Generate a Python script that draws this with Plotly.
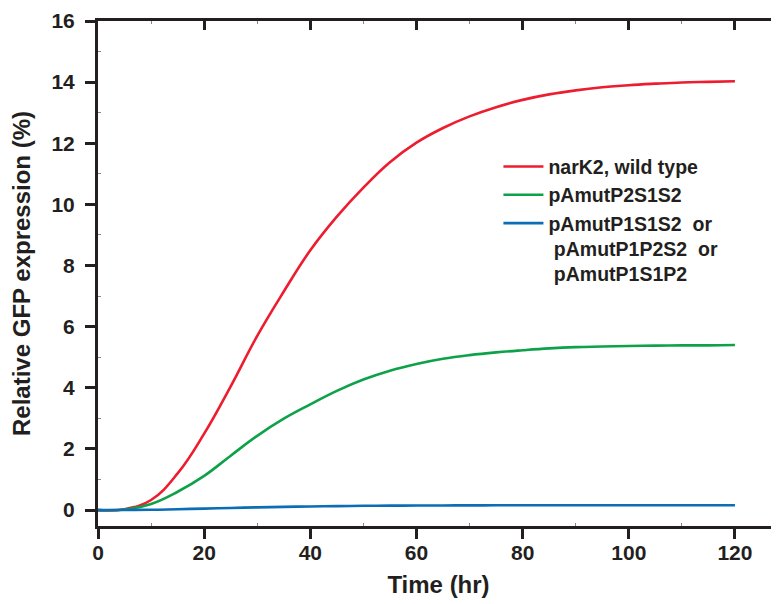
import plotly.graph_objects as go

time_hr = [0, 5, 10, 15, 20, 25, 30, 35, 40, 45, 50, 55, 60, 65, 70, 75, 80, 85, 90, 95, 100, 105, 110, 115, 120]
narK2_wt = [0, 0.03, 0.33, 1.2, 2.5, 4.05, 5.7, 7.15, 8.5, 9.6, 10.55, 11.38, 12.02, 12.5, 12.88, 13.18, 13.42, 13.6, 13.73, 13.83, 13.9, 13.95, 13.99, 14.01, 14.03]
pAmutP2S1S2 = [0, 0.02, 0.2, 0.6, 1.12, 1.78, 2.43, 2.99, 3.46, 3.9, 4.27, 4.56, 4.78, 4.95, 5.07, 5.16, 5.23, 5.29, 5.33, 5.35, 5.37, 5.38, 5.39, 5.39, 5.4]
pAmutP1_group = [0, 0.005, 0.01, 0.03, 0.05, 0.07, 0.09, 0.105, 0.12, 0.13, 0.14, 0.145, 0.15, 0.152, 0.155, 0.157, 0.16, 0.16, 0.16, 0.16, 0.16, 0.16, 0.16, 0.16, 0.16]

names = ["narK2, wild type", "pAmutP2S1S2", "pAmutP1S1S2  or<br> pAmutP1P2S2  or<br> pAmutP1S1P2"]
colors = ["#ED1C2E", "#0DA24A", "#0A6DB5"]

x_ticks = [0, 20, 40, 60, 80, 100, 120]
y_ticks = [0, 2, 4, 6, 8, 10, 12, 14, 16]

AX = "#231f20"
FONT = "Liberation Sans, Arial, sans-serif"

fig = go.Figure()
for ys, nm, c in zip([narK2_wt, pAmutP2S1S2, pAmutP1_group], names, colors):
    fig.add_trace(go.Scatter(x=time_hr, y=ys, mode="lines", name=nm,
                             line=dict(color=c, width=2.6, shape="spline", smoothing=1.2)))

# invisible trace to anchor mirrored axes
fig.add_trace(go.Scatter(x=[0], y=[0], xaxis="x2", yaxis="y2", mode="markers",
                         marker=dict(opacity=0), showlegend=False, hoverinfo="skip"))

xr = [0, 128.3]
yr = [-0.52, 16]

fig.update_layout(
    width=779, height=604,
    margin=dict(l=90, r=8, t=13, b=86),
    paper_bgcolor="white", plot_bgcolor="white",
    font=dict(family=FONT, color=AX),
    showlegend=True,
    legend=dict(x=0.588, y=0.75, xanchor="left", yanchor="top", valign="top",
                font=dict(size=19.5, weight="bold", color=AX, family=FONT),
                bgcolor="rgba(0,0,0,0)", tracegroupgap=0, itemwidth=40),
    xaxis=dict(range=xr, tickvals=x_ticks, ticktext=[str(v) for v in x_ticks], automargin=False,
               ticks="outside", ticklen=10, tickwidth=3, tickcolor=AX, ticklabelstandoff=-4,
               ticklabeloverflow="allow",
               showline=True, linewidth=3, linecolor=AX, showgrid=False, zeroline=False,
               tickfont=dict(size=21, weight="bold", color=AX),
               minor=dict(tickvals=[10, 30, 50, 70, 90, 110], ticks="inside", ticklen=3, tickwidth=1, tickcolor="#888"),
               title=dict(text="Time (hr)", font=dict(size=24, weight="bold", color=AX), standoff=13)),
    yaxis=dict(range=yr, tickvals=y_ticks, ticktext=[str(v) for v in y_ticks], automargin=False,
               ticks="outside", ticklen=10, tickwidth=3, tickcolor=AX, ticklabelstandoff=6,
               ticklabeloverflow="allow",
               showline=True, linewidth=3, linecolor=AX, showgrid=False, zeroline=False,
               tickfont=dict(size=21, weight="bold", color=AX),
               minor=dict(tickvals=[1, 3, 5, 7, 9, 11, 13, 15], ticks="inside", ticklen=3, tickwidth=1, tickcolor="#888"),
               title=dict(text="Relative GFP expression (%)", font=dict(size=24, weight="bold", color=AX), standoff=22)),
    xaxis2=dict(range=xr, overlaying="x", side="top", anchor="y2", automargin=False,
                tickvals=x_ticks[1:], ticks="inside", ticklen=9, tickwidth=3, tickcolor=AX,
                showticklabels=False, showline=True, linewidth=3, linecolor=AX,
                showgrid=False, zeroline=False,
                minor=dict(tickvals=[10, 30, 50, 70, 90, 110], ticks="inside", ticklen=3, tickwidth=1, tickcolor="#888")),
    yaxis2=dict(range=yr, overlaying="y", side="right", anchor="x2", automargin=False,
                tickvals=y_ticks, ticks="inside", ticklen=3, tickwidth=3, tickcolor=AX,
                showticklabels=False, showline=False, showgrid=False, zeroline=False),
)

fig.write_html("out.html")
